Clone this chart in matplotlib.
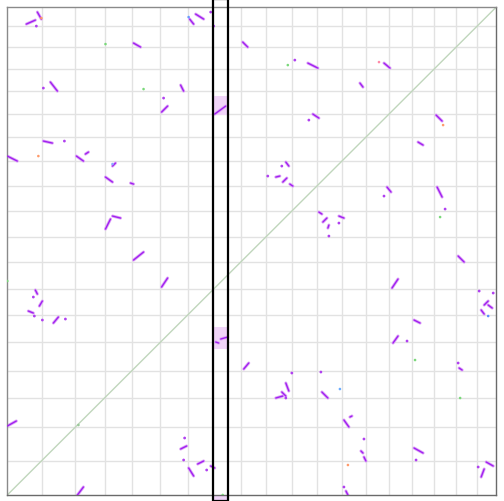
import matplotlib
matplotlib.use("Agg")
import matplotlib.pyplot as plt
from matplotlib.patches import Rectangle
import numpy as np

# chromosome lengths (Mb), same genome on both axes
chrom_len = [34.2, 33.5, 29.6, 26.7, 28.8, 27.3, 25.6, 27.2, 25.3, 26.1,
             25.0, 25.1, 23.7, 23.0, 23.0, 22.1, 22.0, 20.4, 19.2]

# syntenic segments: x0, y0, x1, y1 (cumulative Mb)
seg_x0 = [30, 19, 126, 188, 182, 235, 43, 173, 154, 207, 36, 0, 69, 78, 105, 98, 123, 98, 105,
          300, 376, 352, 305, 428, 410, 278, 268, 275, 282, 379, 429, 311, 315, 320, 331,
          126, 154, 28, 32, 21, 46, 208, 213, 236, 0, 70, 173, 181, 190, 203,
          450, 384, 476, 480, 473, 406, 385, 451, 278, 268, 274, 314, 336, 342, 353, 356,
          338, 406, 473, 478]
seg_y0 = [483, 471, 452, 481, 476, 453, 413, 410, 383, 381, 354, 339, 339, 341, 329, 318, 312, 266, 279,
          432, 432, 412, 381, 380, 353, 333, 318, 313, 311, 308, 308, 283, 273, 267, 279,
          235, 208, 205, 189, 184, 172, 153, 156, 126, 69, 0, 46, 27, 31, 29,
          239, 207, 190, 190, 185, 175, 152, 127, 112, 97, 103, 103, 75, 78, 44, 38,
          4, 47, 18, 33]
seg_x1 = [34, 28, 133, 196, 186, 240, 50, 176, 160, 218, 45, 10, 76, 81, 108, 105, 126, 103, 113,
          310, 382, 355, 311, 434, 415, 281, 272, 279, 285, 383, 434, 314, 319, 321, 336,
          136, 160, 30, 35, 26, 51, 211, 220, 241, 9, 76, 179, 186, 196, 207,
          456, 390, 480, 484, 476, 412, 390, 454, 281, 275, 278, 320, 341, 344, 355, 358,
          340, 415, 476, 485]
seg_y1 = [476, 475, 448, 476, 471, 448, 404, 404, 389, 389, 352, 334, 334, 343, 332, 313, 311, 276, 277,
          427, 427, 408, 377, 374, 350, 329, 319, 317, 309, 303, 298, 281, 277, 270, 277,
          243, 217, 201, 194, 182, 178, 152, 158, 132, 74, 8, 49, 19, 34, 27,
          233, 216, 194, 187, 181, 172, 159, 125, 104, 99, 99, 97, 68, 79, 42, 34,
          0, 42, 26, 29]

# single hits
dot_x = [29, 203, 206, 36, 156, 57, 287, 301, 274, 260, 376, 437, 321, 331,
         26, 27, 35, 58, 177, 176, 199, 471, 485, 399, 450, 284, 313, 278, 356, 336, 408, 470]
dot_y = [469, 483, 469, 407, 397, 354, 435, 375, 329, 319, 299, 286, 259, 272,
         198, 179, 175, 176, 57, 35, 25, 204, 202, 154, 132, 122, 123, 97, 56, 8, 35, 28]

# hits in other identity classes
other_x = [34, 98, 181, 136, 31, 280, 371, 435, 432, 0, 71, 215, 407, 452, 480, 332, 340, 105]
other_y = [477, 451, 478, 406, 339, 430, 433, 370, 278, 214, 70, 0, 135, 97, 179, 106, 30, 331]
other_c = ["#ff9a6a", "#7ad87a", "#6a9cff", "#7ad87a", "#ff9a6a", "#7ad87a", "#ff8aa8",
           "#ff9a6a", "#7ad87a", "#7ad87a", "#9ac89a", "#7ad87a", "#7ad87a", "#7ad87a",
           "#5a8cff", "#6aacff", "#ff9a6a", "#8aacff"]

# highlighted region on x and its matches on y
hl_x = [205.3, 220.3]
hl_y = [(380, 399), (146, 168)]

bounds = np.concatenate([[0], np.cumsum(chrom_len)])
total = bounds[-1]

fig = plt.figure(figsize=(5.04, 5.02), dpi=100)
ax = fig.add_axes([7.3 / 504, 6 / 502, 488.7 / 504, 487.7 / 502])
ax.set_xlim(0, total)
ax.set_ylim(0, total)

for b in bounds[1:-1]:
    ax.axvline(b, color="#e2e2e2", lw=1.0, zorder=0)
    ax.axhline(b, color="#e2e2e2", lw=1.0, zorder=0)

ax.plot([0, total], [0, total], color="#c0d6bc", lw=1.0, zorder=1)

for y0, y1 in hl_y:
    ax.add_patch(Rectangle((hl_x[0], y0), hl_x[1] - hl_x[0], y1 - y0,
                           facecolor="#f0d4f8", edgecolor="none", zorder=1))
ax.add_patch(Rectangle((hl_x[0], -6), hl_x[1] - hl_x[0], 6,
                       facecolor="#f0d4f8", edgecolor="none", zorder=1, clip_on=False))

for x0, y0, x1, y1 in zip(seg_x0, seg_y0, seg_x1, seg_y1):
    ax.plot([x0, x1], [y0, y1], color="#dea6f7", lw=2.2, solid_capstyle="round", zorder=2)
    ax.plot([x0, x1], [y0, y1], color="#a020f0", lw=1.0, solid_capstyle="round", zorder=3)

ax.scatter(dot_x, dot_y, s=4, color="#b040f0", edgecolors="none", zorder=3)
ax.scatter(other_x, other_y, s=3.5, c=other_c, edgecolors="none", zorder=3)

ax.add_patch(Rectangle((hl_x[0], -6), hl_x[1] - hl_x[0], total + 14,
                       facecolor="none", edgecolor="black", lw=1.6, zorder=5, clip_on=False))

ax.set_xticks([])
ax.set_yticks([])
for s in ["top", "left"]:
    ax.spines[s].set_color("#8a8a8a")
for s in ["bottom", "right"]:
    ax.spines[s].set_color("#6a6a6a")
for s in ax.spines.values():
    s.set_linewidth(1.0)

fig.savefig("out.png", dpi=100)
